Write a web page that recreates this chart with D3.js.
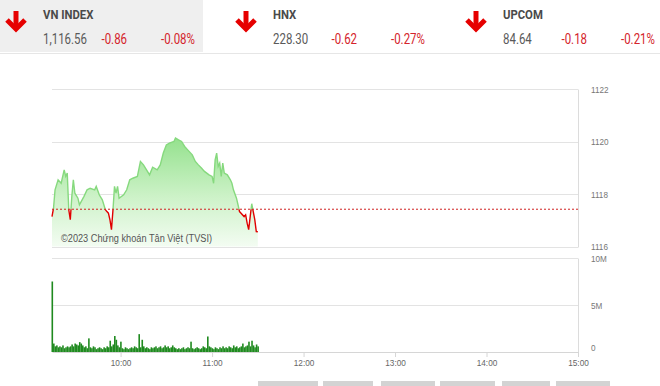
<!DOCTYPE html>
<html>
<head>
<meta charset="utf-8">
<script src="https://cdn.jsdelivr.net/npm/d3@7"></script>
<style>
  body { margin: 0; background: #fff; }
  svg { display: block; }
</style>
</head>
<body>
<div id="chart"></div>
<script>
// header quotes
const indexNames = ["VN INDEX", "HNX", "UPCOM"]
const indexValues = ["1,116.56", "228.30", "84.64"]
const indexChanges = ["-0.86", "-0.62", "-0.18"]
const indexPercents = ["-0.08%", "-0.27%", "-0.21%"]

// intraday VN-Index
const refPrice = 1117.42
const priceTimes = ["9:15","9:16","9:17","9:19","9:21","9:23","9:24","9:25","9:26","9:27","9:28","9:29","9:30","9:32","9:33","9:36","9:38","9:40","9:43","9:44","9:46","9:48","9:50","9:51","9:52","9:53","9:54","9:55","9:56","9:57","9:58","9:59","10:02","10:04","10:06","10:08","10:11","10:13","10:15","10:17","10:19","10:21","10:24","10:26","10:28","10:30","10:32","10:35","10:36","10:38","10:40","10:42","10:44","10:47","10:49","10:51","10:53","10:55","10:58","11:00","11:01","11:02","11:03","11:04","11:05","11:06","11:07","11:08","11:10","11:12","11:13","11:14","11:16","11:17","11:18","11:19","11:21","11:22","11:23","11:24","11:25","11:26","11:27","11:28","11:29","11:30"]
const priceValues = [1117.14,1117.46,1118.16,1118.54,1118.41,1118.92,1118.67,1118.80,1117.40,1117.02,1117.91,1118.54,1118.03,1117.84,1117.59,1117.91,1118.16,1118.22,1118.16,1118.29,1117.97,1117.78,1117.40,1117.33,1117.27,1117.02,1116.64,1117.40,1118.29,1118.03,1118.29,1117.84,1117.97,1118.16,1118.54,1118.60,1118.67,1119.24,1119.11,1118.92,1118.73,1119.02,1118.92,1119.11,1119.56,1119.87,1119.94,1120.00,1120.13,1120.06,1120.00,1119.81,1119.68,1119.49,1119.24,1119.11,1118.99,1118.86,1118.73,1118.67,1118.41,1119.30,1119.56,1119.05,1119.18,1118.67,1119.18,1118.80,1118.73,1118.54,1118.41,1118.16,1117.84,1117.59,1117.33,1117.27,1117.14,1117.21,1116.89,1116.64,1117.14,1117.63,1117.33,1117.02,1116.57,1116.56]

// volume per minute from 9:15 (millions)
const volumeValues = [7.5,0.9,0.6,0.7,0.5,0.6,0.5,0.7,0.4,0.5,0.6,0.5,0.6,0.8,0.6,0.9,0.8,0.7,1.05,0.9,0.7,0.5,0.6,0.4,1.45,0.5,0.4,0.6,0.5,0.3,0.4,0.5,0.4,0.3,0.5,0.4,0.6,0.5,1.2,0.6,0.8,1.7,1.3,0.7,0.5,1.1,0.4,0.3,0.5,0.4,0.3,0.4,0.5,0.4,0.6,0.5,0.4,1.9,0.5,1.3,0.6,0.4,0.5,0.4,0.3,0.5,0.4,0.5,0.6,0.4,0.5,0.6,0.4,0.5,0.7,0.5,0.6,0.4,0.5,0.7,0.5,0.4,0.3,0.4,0.3,0.4,0.5,0.3,0.4,0.5,0.4,1.1,0.4,0.3,0.4,0.5,0.4,0.3,0.4,0.6,0.5,0.4,1.65,0.6,0.5,0.4,0.3,0.5,0.4,0.3,0.5,0.4,0.6,0.4,0.5,0.4,0.6,0.5,0.4,0.7,0.5,0.6,0.4,0.5,0.6,0.9,0.5,0.6,0.7,1.1,0.6,1.2,0.7,0.5,0.8,0.6]

const priceTicks = [1116, 1118, 1120, 1122]
const volumeTicks = [0, 5, 10]
const volumeTickLabels = ["0", "5M", "10M"]
const timeTicks = ["10:00", "11:00", "12:00", "13:00", "14:00", "15:00"]

const width = 660, height = 386
const parseTime = d3.timeParse("%H:%M")

const svg = d3.select("#chart").append("svg")
    .attr("width", width)
    .attr("height", height)

// the source picture is squeezed sideways, so text gets a narrow x scale
function addText(parent, tx, ty, str, sx) {
    return parent.append("text")
        .attr("transform", `translate(${tx},${ty}) scale(${sx},1)`)
        .text(str)
}

// ---------- header ----------
svg.append("rect")
    .attr("x", 0).attr("y", 0)
    .attr("width", 203).attr("height", 52)
    .attr("fill", "#efefef")

svg.append("line")
    .attr("x1", 0).attr("x2", width)
    .attr("y1", 53.5).attr("y2", 53.5)
    .attr("stroke", "#e6e6e6")

const headerX = [0, 230, 460]
const colOffsets = [43, 101.5, 161]
const textFont = "Roboto, 'Liberation Sans', sans-serif"

indexNames.forEach((name, i) => {
    let g = svg.append("g").attr("transform", `translate(${headerX[i]},0)`)

    // red down arrow
    g.append("line")
        .attr("x1", 16).attr("x2", 16)
        .attr("y1", 11).attr("y2", 28)
        .attr("stroke", "#e60000").attr("stroke-width", 5)
    g.append("polyline")
        .attr("points", "7,20 16,29 25,20")
        .attr("fill", "none")
        .attr("stroke", "#e60000")
        .attr("stroke-width", 5)
        .attr("stroke-linejoin", "miter")

    addText(g, colOffsets[0], 19, name, 0.87)
        .attr("font-family", textFont)
        .attr("font-weight", "bold")
        .attr("font-size", 13)
        .attr("fill", "#4a4a4a")

    addText(g, colOffsets[0], 44, indexValues[i], 0.82)
        .attr("font-family", textFont)
        .attr("font-size", 14)
        .attr("fill", "#5a5a5a")

    addText(g, colOffsets[1], 44, indexChanges[i], 0.82)
        .attr("font-family", textFont)
        .attr("font-size", 14)
        .attr("fill", "#d4242b")

    addText(g, colOffsets[2], 44, indexPercents[i], 0.82)
        .attr("font-family", textFont)
        .attr("font-size", 14)
        .attr("fill", "#d4242b")
})

// ---------- scales ----------
const left = 52, right = 578
const x = d3.scaleTime()
    .domain([parseTime("9:15"), parseTime("15:00")])
    .range([left, right])

const y = d3.scaleLinear().domain([1116, 1122]).range([246.5, 89])
const yVol = d3.scaleLinear().domain([0, 10]).range([352, 258])

const axisFont = "Arial, 'Liberation Sans', sans-serif"

// ---------- price panel ----------
svg.append("g")
    .selectAll("line")
    .data(priceTicks)
    .join("line")
    .attr("x1", left).attr("x2", right)
    .attr("y1", d => Math.round(y(d)) + 0.5)
    .attr("y2", d => Math.round(y(d)) + 0.5)
    .attr("stroke", "#e3e3e3")

svg.append("line")
    .attr("x1", right + 0.5).attr("x2", right + 0.5)
    .attr("y1", Math.round(y(1122)) + 0.5).attr("y2", Math.round(y(1116)) + 0.5)
    .attr("stroke", "#dcdcdc")

const priceLabels = svg.append("g")
    .attr("font-family", axisFont)
    .attr("font-size", 9.5)
    .attr("fill", "#777")
priceTicks.forEach(d => addText(priceLabels, 591, y(d) + 3.5, d, 0.86))

const priceData = priceTimes.map((t, i) => ({ t: parseTime(t), v: priceValues[i] }))

const defs = svg.append("defs")
const grad = defs.append("linearGradient")
    .attr("id", "areaGrad")
    .attr("gradientUnits", "userSpaceOnUse")
    .attr("x1", 0).attr("x2", 0)
    .attr("y1", y(1120.2)).attr("y2", y(1116))
grad.append("stop").attr("offset", 0).attr("stop-color", "#93e18c")
grad.append("stop").attr("offset", 0.55).attr("stop-color", "#cdf2c8")
grad.append("stop").attr("offset", 1).attr("stop-color", "#f3fcf2")

const refY = y(refPrice)
defs.append("clipPath").attr("id", "clipUp")
    .append("rect").attr("x", 0).attr("y", 0).attr("width", width).attr("height", refY)
defs.append("clipPath").attr("id", "clipDown")
    .append("rect").attr("x", 0).attr("y", refY).attr("width", width).attr("height", height - refY)

const area = d3.area()
    .x(d => x(d.t))
    .y0(y(1116))
    .y1(d => y(d.v))

svg.append("path")
    .datum(priceData)
    .attr("d", area)
    .attr("fill", "url(#areaGrad)")

const line = d3.line()
    .x(d => x(d.t))
    .y(d => y(d.v))

svg.append("path")
    .datum(priceData)
    .attr("d", line)
    .attr("fill", "none")
    .attr("stroke", "#86d97e")
    .attr("stroke-width", 1.4)
    .attr("clip-path", "url(#clipUp)")

svg.append("path")
    .datum(priceData)
    .attr("d", line)
    .attr("fill", "none")
    .attr("stroke", "#e00000")
    .attr("stroke-width", 1.4)
    .attr("clip-path", "url(#clipDown)")

// reference (previous close)
svg.append("line")
    .attr("x1", left).attr("x2", right)
    .attr("y1", refY).attr("y2", refY)
    .attr("stroke", "#d02020")
    .attr("stroke-width", 1)
    .attr("stroke-dasharray", "2,2")

addText(svg, 61, 242, "©2023 Chứng khoán Tân Việt (TVSI)", 0.8)
    .attr("font-family", axisFont)
    .attr("font-size", 11.5)
    .attr("fill", "#555")

// ---------- volume panel ----------
svg.append("g")
    .selectAll("line")
    .data(volumeTicks.slice(1))
    .join("line")
    .attr("x1", left).attr("x2", right)
    .attr("y1", d => Math.round(yVol(d)) + 0.5)
    .attr("y2", d => Math.round(yVol(d)) + 0.5)
    .attr("stroke", "#e3e3e3")

svg.append("line")
    .attr("x1", right + 0.5).attr("x2", right + 0.5)
    .attr("y1", Math.round(yVol(10)) + 0.5).attr("y2", yVol(0))
    .attr("stroke", "#dcdcdc")

const volLabels = svg.append("g")
    .attr("font-family", axisFont)
    .attr("font-size", 9.5)
    .attr("fill", "#777")
volumeTicks.forEach((d, i) => addText(volLabels, 591, i === 0 ? yVol(d) - 1.5 : yVol(d) + 3.5, volumeTickLabels[i], 0.86))

const volTimes = d3.timeMinute.range(parseTime("9:15"), d3.timeMinute.offset(parseTime("9:15"), volumeValues.length))

svg.append("g")
    .selectAll("rect")
    .data(volumeValues)
    .join("rect")
    .attr("x", (d, i) => x(volTimes[i]) - 0.5)
    .attr("width", 1.6)
    .attr("y", d => yVol(d))
    .attr("height", d => yVol(0) - yVol(d))
    .attr("fill", "#1f8a1f")

// time axis
const xAxis = d3.axisBottom(x)
    .tickValues(timeTicks.map(parseTime))
    .tickFormat(d3.timeFormat("%H:%M"))
    .tickSize(5)
    .tickSizeOuter(0)

const axisG = svg.append("g")
    .attr("transform", `translate(0,${yVol(0)})`)
    .call(xAxis)

axisG.select(".domain").attr("stroke", "#d6d6d6")
axisG.selectAll(".tick line").attr("stroke", "#d6d6d6")
axisG.selectAll(".tick text")
    .attr("font-family", axisFont)
    .attr("font-size", 9.5)
    .attr("fill", "#666")
    .attr("dy", "0.6em")
    .attr("transform", "scale(0.87,1)")

// tabs cut at the bottom edge
const tabStarts = [258, 323, 381, 440, 502, 556]
const tabEnds = [318, 373, 435, 495, 550, 610]
svg.append("g")
    .selectAll("rect")
    .data(tabStarts)
    .join("rect")
    .attr("x", d => d)
    .attr("y", 381)
    .attr("width", (d, i) => tabEnds[i] - d)
    .attr("height", 5)
    .attr("fill", "#d3d3d3")
</script>
</body>
</html>
